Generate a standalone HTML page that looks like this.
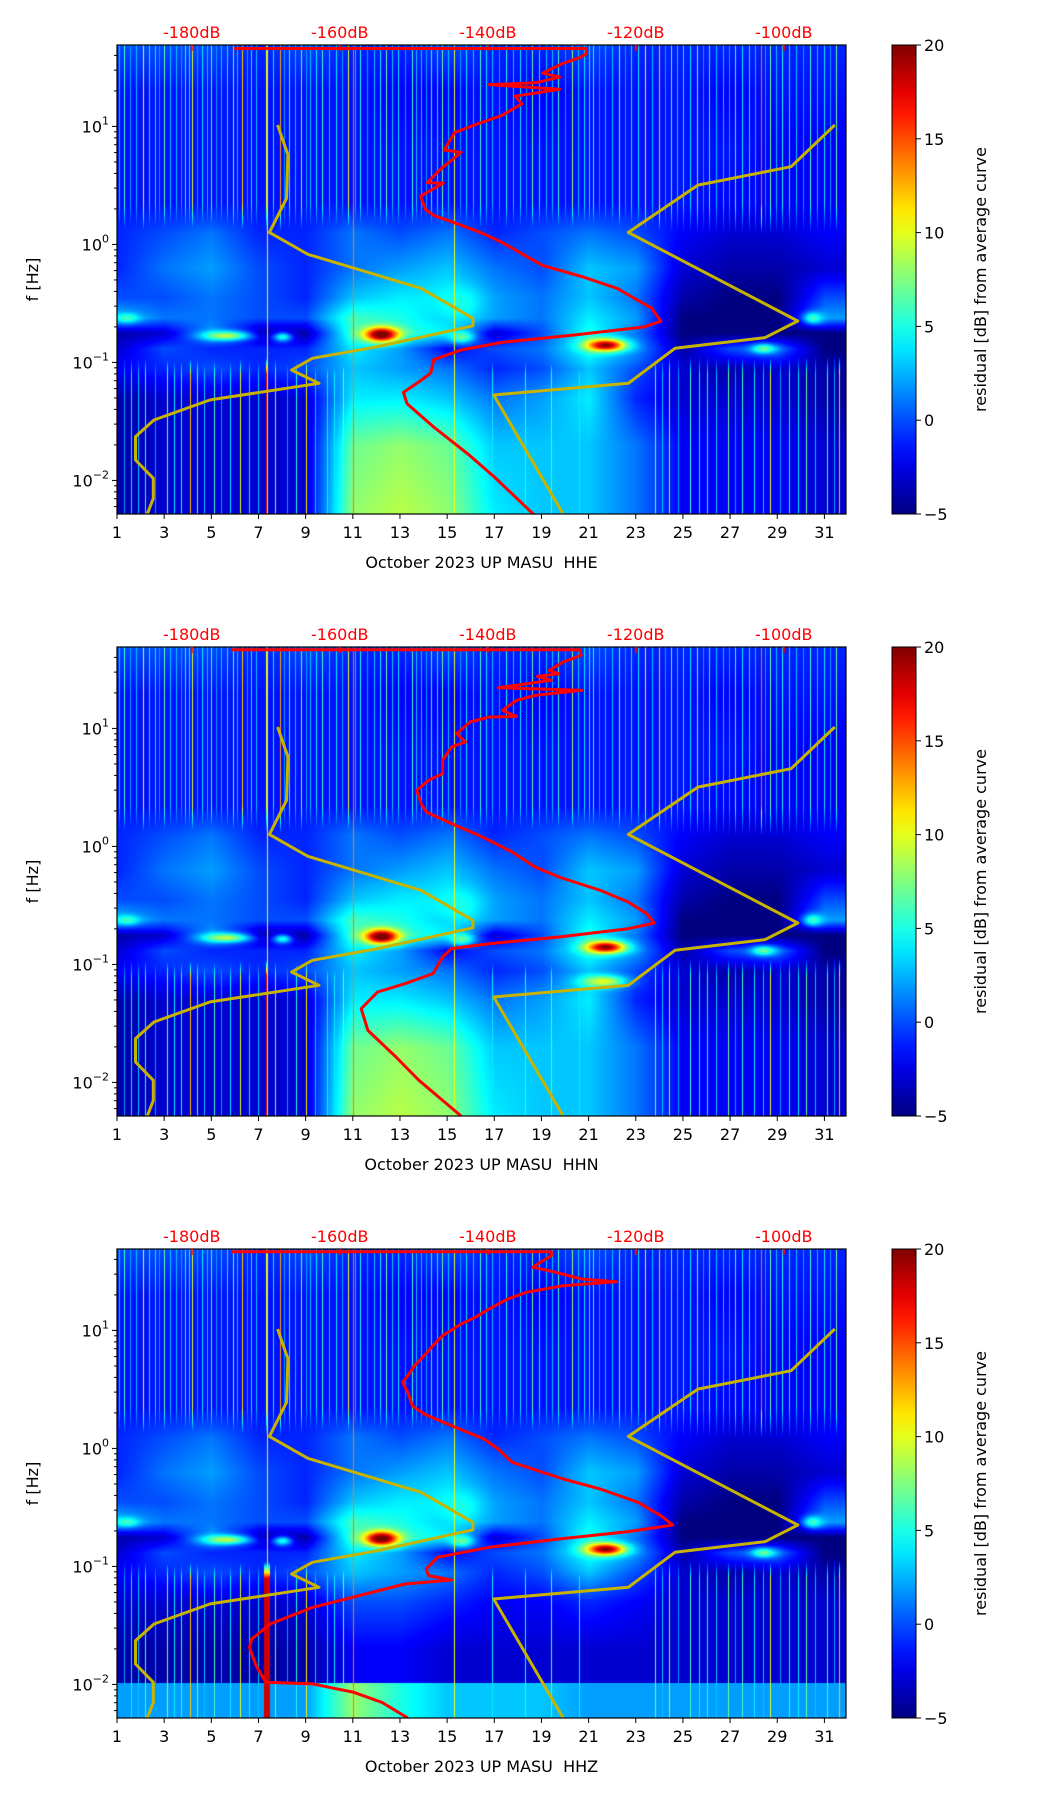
<!DOCTYPE html>
<html><head><meta charset="utf-8">
<style>
html,body{margin:0;padding:0;background:#fff;}
#wrap{position:relative;width:1052px;height:1806px;overflow:hidden;font-family:"DejaVu Sans","Liberation Sans",sans-serif;}
canvas{position:absolute;}
svg{position:absolute;left:0;top:0;}
</style></head>
<body>
<div id="wrap"></div>
<script>
// ---------- data ----------
const gridDays=[1,3,5,7,9,11,13,15,17,19,21,23,25,27,29,31];
const gridLogF=[1.69,1.3,0.8,0.35,0.1,-0.2,-0.45,-0.62,-0.75,-0.88,-1.05,-1.3,-1.7,-2.31];
const gridRow0=[0,0,0,-1,0,-1,-1,0,-1,-1,0,-1,-1,-1,-1,-1];
const gridRow1=[-1.5,-1.5,-1.5,-1.5,-1.5,-1.5,-2,-2,-1.5,-2,-1.5,-1.5,-1.5,-2,-1.5,-1.5];
const gridRow2=[-1.5,-1.5,-1.5,-1.5,-1.5,-1.5,-1.5,-1.5,-1.5,-1.5,-1.5,-1.5,-1.5,-1.5,-2,-2];
const gridRow3=[-1.5,-1.5,-1.5,-1.5,-1.5,-1.5,-1.5,-1.5,-1.5,-1.5,-1.5,-1.5,-1.5,-2,-2,-2];
const gridRow4=[-1,0,1,-1,-1,1,0,1,-1,0,1,0,-2,-3,-3,-2];
const gridRow5=[-1,1,2,0,-1,1,2,3,1,0,3,2,-3,-4,-4,-3];
const gridRow6=[0,0,1,0,-1,3,4,4,2,1,3,1,-4,-5,-5,0];
const gridRow7=[3,1,1,0,0,6,5,3,2,1,4,2,-5,-5,-5,2];
const gridRow8=[-4,-3,2,-4,-4,6,6,4,-3,0,5,1,-5,-5,-5,-5];
const gridRow9=[-3,0,-1,-1,-1,4,2,-2,0,1,5,2,-4,0,1,-5];
const gridRow10=[-2,-1,0,-1,0,3,2,1,-1,0,3,0,-3,-4,-3,-4];
const gridRow11=[-4,-3,-3,-3,-3,4,4,3,1,2,4,-1,-3,-3,-3,-4];
const gridRow12=[-4,-3,-3,-3,-3,7,8,7,3,3,3,1,-2,-2,-2,-3];
const gridRow13=[-4,-3,-3,-3,-3,8,9,8,4,3,3,1,-2,-2,-2,-3];
// HHZ lower rows
const zRow11=[-3,-3,-3,-3,-3,0,0,-1,-2,-2,-1,-2,-3,-3,-3,-3];
const zRow12=[-4,-4,-4,-4,-4,-2,-2,-3,-3,-3,-3,-3,-3,-3,-3,-3];
const zRow13=[-4,-4,-4,-4,-4,-2,-2,-3,-3,-3,-3,-3,-3,-3,-3,-3];
const zLowBand=[2,2,2,2,2,8,5,3,3,3,2,2,2,2,2,2];
// hot-spot blobs
const blobDay=[12.2,21.7,5.6,28.4,30.5,1.4,15.6,8.0,15.5];
const blobLogF=[-0.76,-0.85,-0.77,-0.88,-0.62,-0.62,-0.78,-0.78,-0.5];
const blobVal=[22,20,9,7,6,6,7,5,5];
const blobWDays=[0.7,0.8,1.0,0.5,0.4,0.5,0.5,0.4,0.9];
const blobHLogF=[0.06,0.05,0.04,0.04,0.05,0.04,0.05,0.04,0.15];
const hhnBlobDay=[21.6], hhnBlobLogF=[-1.14], hhnBlobVal=[10];
// streaks (transient events)
const streakDays=[1.3,1.8,2.1,2.6,3.0,3.5,3.9,4.2,4.6,5.0,5.4,5.9,6.3,6.7,7.3,7.9,8.3,8.8,9.2,9.7,10.3,10.8,11.3,11.9,12.4,12.9,13.5,13.9,14.3,14.8,15.3,15.8,16.4,16.9,17.5,18.1,18.6,19.2,19.7,20.3,20.8,21.2,21.7,22.3,22.8,23.4,24.0,24.5,25.0,25.6,26.1,26.7,27.2,27.8,28.3,28.7,29.2,29.8,30.4,31.0,31.5];
const streakVal=[8,5,12,6,9,5,7,12,6,8,5,9,14,6,12,15,7,9,5,8,6,12,7,5,9,6,8,5,7,9,11,6,8,5,7,6,9,5,8,10,6,7,5,9,6,12,14,8,6,9,7,5,8,6,16,9,7,5,8,6,9];
const streakDays2=[1.1,1.55,2.35,2.8,3.25,3.7,4.05,4.4,4.8,5.2,5.65,6.1,6.5,6.9,7.6,8.1,8.55,9.0,9.45,10.0,10.55,11.1,11.6,12.15,12.65,13.2,13.7,14.1,14.55,15.05,15.55,16.1,16.65,17.2,17.8,18.35,18.9,19.45,20.0,20.55,21.0,21.45,22.0,22.55,23.1,23.7,24.25,24.75,25.3,25.85,26.4,26.95,27.5,28.05,28.5,28.95,29.5,30.1,30.7,31.25];
const streakVal2=[5,4,6,4,5,4,6,4,5,4,6,5,4,5,6,4,5,4,6,5,4,5,4,6,5,4,5,4,6,5,4,5,6,4,5,4,6,5,4,5,6,4,5,4,6,5,4,5,6,4,5,4,6,5,4,5,6,4,5,4];
const lowStreakDays=[1.6,2.2,3.1,3.7,4.1,4.4,5.1,5.8,6.2,7.3,7.7,8.6,9.0,9.9,10.6,16.9,18.3,19.4,20.6,23.8,24.4,25.3,26.0,26.9,27.5,28.7,29.5,30.2,31.1,31.6];
const lowStreakVal=[6,8,10,7,14,9,8,6,12,20,9,7,13,6,9,6,7,8,6,9,10,8,7,9,8,12,7,9,8,14];
const lowStreakDays2=[1.3,1.9,2.6,3.4,4.7,5.4,6.6,7.0,8.2,9.4,10.2,24.1,24.8,25.7,26.4,27.2,28.0,28.4,29.1,29.9,30.6,31.4];
const lowStreakVal2=[4,5,4,6,5,4,6,5,4,5,6,5,4,6,5,4,6,5,4,6,5,4];
const fullLineDays=[7.35,11.0,15.3];
const fullLineVal=[11,14,10];
// noise models (dB, log10 f)
const nlnmDb=[-168.4,-167.0,-167.2,-169.5,-164.3,-149.0,-142.0,-142.0,-154.9,-163.7,-166.5,-162.8,-177.5,-185.1,-187.6,-187.6,-185.2,-185.2,-186.0];
const nlnmLogF=[1.012,0.76,0.39,0.102,-0.084,-0.372,-0.626,-0.69,-0.867,-0.965,-1.064,-1.177,-1.318,-1.488,-1.629,-1.827,-1.982,-2.152,-2.285];
const nhnmDb=[-93.1,-99.0,-111.6,-121.0,-98.1,-102.5,-114.7,-121.0,-139.2,-129.8];
const nhnmLogF=[1.012,0.659,0.503,0.102,-0.649,-0.79,-0.88,-1.177,-1.276,-2.285];
// average PSD curves
const hheDb=[-174.3,-126.7,-126.7,-127.6,-129.9,-132.6,-130.3,-133.5,-139.9,-130.3,-136.3,-135.4,-138.1,-141.8,-144.5,-145.9,-143.6,-146.4,-148.2,-146.0,-149.1,-148.4,-147.3,-143.6,-140.9,-138.1,-132.6,-127.1,-122.5,-119.8,-117.9,-116.6,-118.9,-128.0,-138.1,-143.6,-147.3,-147.7,-149.1,-151.4,-150.9,-147.3,-142.7,-139.1,-133.5];
const hheLogF=[1.66,1.66,1.615,1.582,1.533,1.452,1.419,1.37,1.354,1.315,1.256,1.191,1.093,1.012,0.947,0.80,0.78,0.637,0.523,0.52,0.409,0.295,0.246,0.164,0.099,0.018,-0.178,-0.276,-0.373,-0.471,-0.537,-0.651,-0.70,-0.765,-0.83,-0.895,-0.976,-1.09,-1.156,-1.254,-1.351,-1.547,-1.775,-1.971,-2.306];
const hhnDb=[-174.7,-127.6,-127.4,-129.8,-131.7,-130.4,-133.3,-131.4,-138.6,-127.3,-133.6,-136.1,-138.0,-136.1,-139.8,-142.4,-144.2,-143.0,-144.9,-146.1,-146.1,-148.0,-149.6,-149.0,-148.3,-144.9,-141.7,-139.8,-136.7,-133.6,-130.4,-124.8,-121.0,-118.5,-117.5,-121.0,-130.4,-139.8,-144.9,-146.1,-147.4,-151.2,-154.9,-157.1,-156.2,-152.4,-149.3,-146.1,-143.6];
const hhnLogF=[1.667,1.667,1.619,1.563,1.492,1.464,1.441,1.408,1.345,1.323,1.28,1.238,1.153,1.102,1.097,1.054,0.956,0.885,0.843,0.73,0.617,0.56,0.475,0.362,0.292,0.193,0.108,0.052,-0.047,-0.174,-0.259,-0.372,-0.471,-0.57,-0.649,-0.697,-0.768,-0.824,-0.866,-0.937,-1.078,-1.163,-1.234,-1.375,-1.559,-1.785,-1.982,-2.152,-2.285];
const hhzDb=[-174.7,-131.4,-131.4,-132.9,-133.9,-131.7,-127.3,-122.6,-129.8,-134.8,-137.3,-139.8,-141.7,-143.6,-146.1,-147.4,-148.6,-149.9,-150.8,-151.5,-150.8,-150.2,-148.6,-144.9,-140.5,-138.6,-136.7,-129.8,-124.8,-119.7,-116.6,-115.0,-121.0,-130.4,-139.8,-146.8,-148.3,-148.0,-144.9,-151.2,-157.4,-163.7,-169.4,-171.9,-172.2,-171.3,-170.0,-163.7,-158.1,-154.3,-150.8];
const hhzLogF=[1.667,1.667,1.634,1.577,1.535,1.506,1.436,1.413,1.379,1.323,1.266,1.182,1.111,1.054,0.956,0.871,0.786,0.701,0.617,0.56,0.475,0.362,0.292,0.193,0.08,-0.005,-0.118,-0.259,-0.344,-0.457,-0.57,-0.649,-0.705,-0.768,-0.838,-0.923,-1.022,-1.078,-1.115,-1.149,-1.248,-1.347,-1.488,-1.615,-1.686,-1.841,-1.982,-1.996,-2.067,-2.152,-2.285];
const xTickDays=[1,3,5,7,9,11,13,15,17,19,21,23,25,27,29,31];
const yTickExp=[1,0,-1,-2];
const dbTicks=[-180,-160,-140,-120,-100];
const cbTicks=[-5,0,5,10,15,20];
const channels=['HHE','HHN','HHZ'];

// ---------- geometry ----------
const L=117,W=729,H=469,PT=[45,647,1249];
const DAY0=1,DAYPX=23.58,LFTOP=1.69,DECPX=118,DB0=-190.1,DBPX=7.4;
const xDay=d=>L+(d-DAY0)*DAYPX;
const xDb=db=>L+(db-DB0)*DBPX;
const yLf=(lf,T)=>T+(LFTOP-lf)*DECPX;
const CBX=892,CBW=24,VMIN=-5,VMAX=20;
const yCb=(v,T)=>T+(VMAX-v)/(VMAX-VMIN)*H;

function jet(v){let t=(v-VMIN)/(VMAX-VMIN);t=Math.max(0,Math.min(1,t));
 const c=x=>Math.max(0,Math.min(1,x));
 return [c(1.5-Math.abs(4*t-3))*255,c(1.5-Math.abs(4*t-2))*255,c(1.5-Math.abs(4*t-1))*255];}

const wrap=document.getElementById('wrap');
const NS='http://www.w3.org/2000/svg';
const svg=document.createElementNS(NS,'svg');
svg.setAttribute('width','1052');svg.setAttribute('height','1806');


function el(tag,attrs,parent){const e=document.createElementNS(NS,tag);for(const k in attrs)e.setAttribute(k,attrs[k]);(parent||svg).appendChild(e);return e;}

function stamp(arr,days,vals,w){days.forEach((d,i)=>{const x=Math.round(xDay(d)-L);for(let k=0;k<w;k++){const c=x+k;if(c>=0&&c<W)arr[c]=Math.max(arr[c],vals[i]);}});}

function drawHeat(p){
 const cv=document.createElement('canvas');
 cv.width=W;cv.height=H;cv.style.left=L+'px';cv.style.top=PT[p]+'px';
 
 
 wrap.appendChild(cv);
 const ctx=cv.getContext('2d');const img=ctx.createImageData(W,H);
 const rows=[gridRow0,gridRow1,gridRow2,gridRow3,gridRow4,gridRow5,gridRow6,gridRow7,gridRow8,gridRow9,gridRow10,
   p===2?zRow11:gridRow11,p===2?zRow12:gridRow12,p===2?zRow13:gridRow13];
 const bd=blobDay.slice(),bl=blobLogF.slice(),bv=blobVal.slice(),bw=blobWDays.slice(),bh=blobHLogF.slice();
 if(p===1){for(let i=0;i<hhnBlobDay.length;i++){bd.push(hhnBlobDay[i]);bl.push(hhnBlobLogF[i]);bv.push(hhnBlobVal[i]);bw.push(0.9);bh.push(0.05);}}
 const topS=new Float32Array(W).fill(-99),lowS=new Float32Array(W).fill(-99),fullS=new Float32Array(W).fill(-99);
 stamp(topS,streakDays,streakVal,1);stamp(topS,streakDays2,streakVal2,1);
 stamp(lowS,lowStreakDays,lowStreakVal,1);stamp(lowS,lowStreakDays2,lowStreakVal2,1);
 if(p===2){const x=Math.round(xDay(7.3)-L);for(let k=-2;k<4;k++)lowS[x+k]=Math.max(lowS[x+k],20);}
 fullLineDays.forEach((d,i)=>{const c=Math.round(xDay(d)-L);if(c>=0&&c<W)fullS[c]=fullLineVal[i];});
 for(let py=0;py<H;py++){
  const lf=LFTOP-py/DECPX;
  let r=0;while(r<gridLogF.length-2&&lf<gridLogF[r+1])r++;
  let fy=(gridLogF[r]-lf)/(gridLogF[r]-gridLogF[r+1]);fy=Math.max(0,Math.min(1,fy));
  const wTop=Math.max(0,Math.min(1,(lf-0.1)/0.25));
  const wLow=Math.max(0,Math.min(1,(-0.95-lf)/0.15));
  for(let px=0;px<W;px++){
   const day=DAY0+px/DAYPX;
   let c=Math.floor((day-1)/2);if(c>14)c=14;if(c<0)c=0;
   let fx=(day-gridDays[c])/2;fx=Math.max(0,Math.min(1,fx));
   const a=rows[r][c]*(1-fx)+rows[r][c+1]*fx, b=rows[r+1][c]*(1-fx)+rows[r+1][c+1]*fx;
   let v=a*(1-fy)+b*fy;
   if(p===2&&lf<-1.98){v=zLowBand[c]*(1-fx)+zLowBand[c+1]*fx;}
   for(let k=0;k<bd.length;k++){const dx=(day-bd[k])/bw[k],dy=(lf-bl[k])/bh[k];const g=Math.exp(-(dx*dx+dy*dy));if(g>0.01)v=v+(bv[k]-v)*g;}
   if(wTop>0&&topS[px]>-99)v=Math.max(v,topS[px]*wTop-2);
   if(wLow>0&&lowS[px]>-99)v=Math.max(v,lowS[px]*wLow-2);
   if(fullS[px]>-99)v=Math.max(v,fullS[px]);
   const col=jet(v);const i=(py*W+px)*4;
   img.data[i]=col[0];img.data[i+1]=col[1];img.data[i+2]=col[2];img.data[i+3]=255;
  }
 }
 ctx.putImageData(img,0,0);
}

function poly(dbs,lfs,T,color,width,name,clip){
 const pts=dbs.map((d,i)=>xDb(d).toFixed(1)+','+yLf(lfs[i],T).toFixed(1)).join(' ');
 const e=el('polyline',{points:pts,fill:'none',stroke:color,'stroke-width':width,'stroke-linejoin':'round','clip-path':'url(#'+clip+')'});
 
 
}

function drawPanel(p){
 const T=PT[p],B=T+H,ch=channels[p];
 const cp=el('clipPath',{id:'clip'+p});el('rect',{x:L,y:T,width:W,height:H},cp);
 poly(nlnmDb,nlnmLogF,T,'#c8b400',3,'low-noise-model-curve','clip'+p);
 poly(nhnmDb,nhnmLogF,T,'#c8b400',3,'high-noise-model-curve','clip'+p);
 const rd=[hheDb,hhnDb,hhzDb][p],rl=[hheLogF,hhnLogF,hhzLogF][p];
 poly(rd,rl,T,'#ff0000',3,'average-psd-curve','clip'+p);
 const fr=el('rect',{x:L,y:T,width:W,height:H,fill:'none',stroke:'#000','stroke-width':1.2});
 
 xTickDays.forEach(d=>{const x=xDay(d);el('line',{x1:x,y1:B,x2:x,y2:B+5,stroke:'#000','stroke-width':1});
  const t=el('text',{x:x,y:B+24,'font-size':16,'text-anchor':'middle',fill:'#000'});t.textContent=d;
  });
 const xl=el('text',{x:L+W/2,y:B+54,'font-size':16,'text-anchor':'middle',fill:'#000'});
 xl.textContent='October 2023 UP MASU\u00a0 '+ch;
 
 for(let e=-3;e<=1;e++){for(let m=1;m<10;m++){const lf=e+Math.log10(m);if(lf>LFTOP||lf<LFTOP-H/DECPX)continue;
   const y=yLf(lf,T);el('line',{x1:L-(m===1?5:3),y1:y,x2:L,y2:y,stroke:'#000','stroke-width':1});}}
 yTickExp.forEach(e=>{const y=yLf(e,T);const t=el('text',{x:L-8,y:y+6,'font-size':16,'text-anchor':'end',fill:'#000'});
  const s1=el('tspan',{},t);s1.textContent='10';const s2=el('tspan',{dy:-8,'font-size':11},t);s2.textContent=e<0?'\u2212'+(-e):String(e);
  });
 const yl=el('text',{x:0,y:0,'font-size':16,'text-anchor':'middle',fill:'#000',transform:'translate(38,'+(T+H/2)+') rotate(-90)'});
 yl.textContent='f [Hz]';
 dbTicks.forEach(db=>{const x=xDb(db);el('line',{x1:x,y1:T,x2:x,y2:T+6,stroke:'#ff0000','stroke-width':2});
  const t=el('text',{x:x,y:T-7,'font-size':16,'text-anchor':'middle',fill:'#ff0000'});t.textContent=db+'dB';
  });
 const gid='cbg'+p;const lg=el('linearGradient',{id:gid,x1:0,y1:1,x2:0,y2:0});
 for(let i=0;i<=20;i++){const v=VMIN+(VMAX-VMIN)*i/20;const c=jet(v);el('stop',{offset:(i/20),'stop-color':'rgb('+c.map(Math.round).join(',')+')'},lg);}
 const cb=el('rect',{x:CBX,y:T,width:CBW,height:H,fill:'url(#'+gid+')',stroke:'#000','stroke-width':1});
 
 cbTicks.forEach(v=>{const y=yCb(v,T);el('line',{x1:CBX+CBW,y1:y,x2:CBX+CBW+5,y2:y,stroke:'#000','stroke-width':1});
  const t=el('text',{x:CBX+CBW+8,y:y+6,'font-size':16,fill:'#000'});t.textContent=v<0?'\u2212'+(-v):String(v);
  });
 const cl=el('text',{x:0,y:0,'font-size':16,'text-anchor':'middle',fill:'#000',transform:'translate(986,'+(T+H/2)+') rotate(-90)'});
 cl.textContent='residual [dB] from average curve';
}
for(let p=0;p<3;p++)drawHeat(p);
wrap.appendChild(svg);
for(let p=0;p<3;p++)drawPanel(p);
</script>
</body></html>
